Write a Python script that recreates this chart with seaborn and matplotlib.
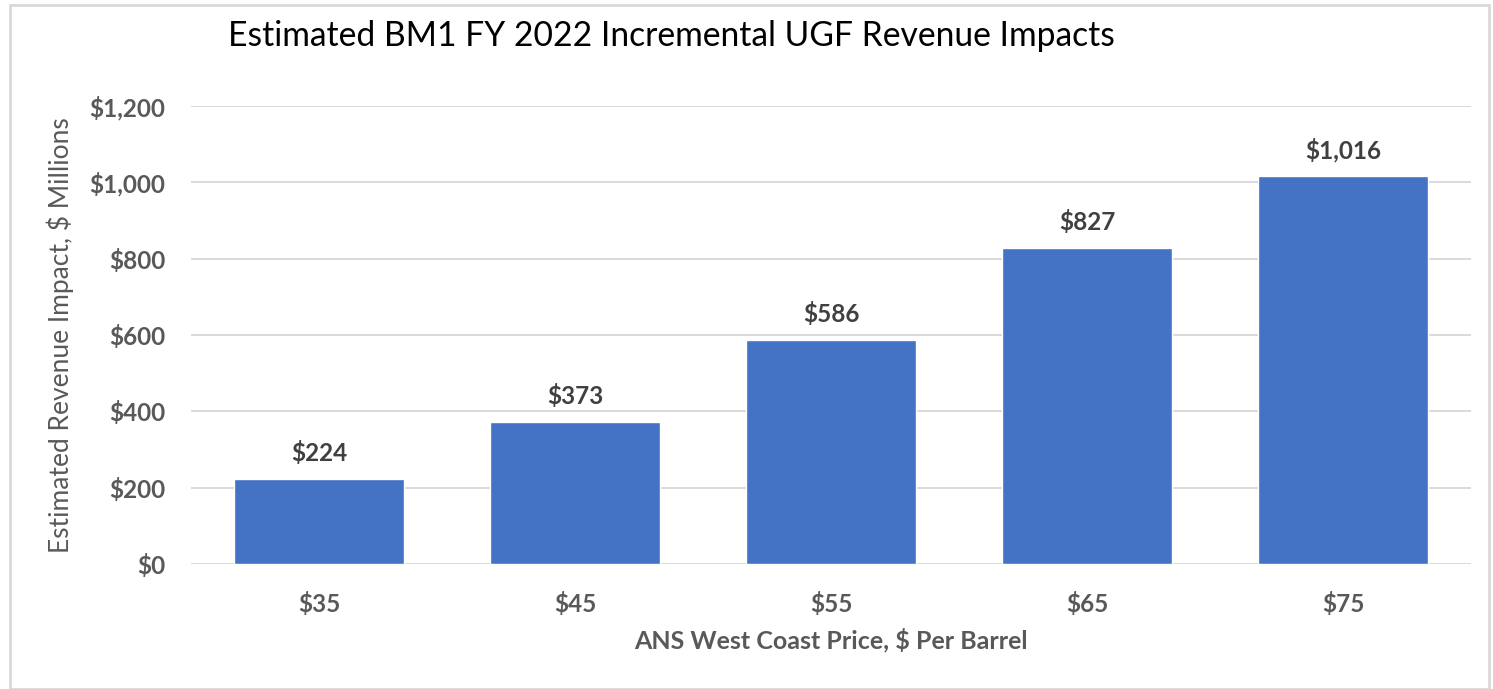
import matplotlib
matplotlib.use("Agg")
import matplotlib.pyplot as plt
import seaborn as sns
import pandas as pd
from matplotlib.patches import Rectangle

# Data
prices = ["$35", "$45", "$55", "$65", "$75"]
impacts = [224, 373, 586, 827, 1016]
y_ticks = [0, 200, 400, 600, 800, 1000, 1200]

title = "Estimated BM1 FY 2022 Incremental UGF Revenue Impacts"
x_label = "ANS West Coast Price, $ Per Barrel"
y_label = "Estimated Revenue Impact, $ Millions"

sns.set_theme(style="white")
plt.rcParams["font.family"] = ["Lato", "DejaVu Sans"]

W, H = 1493, 689
fig = plt.figure(figsize=(W / 100, H / 100), dpi=100)
ax = fig.add_axes([191 / W, 1 - 564 / H, (1471 - 191) / W, (564 - 106) / H])

df = pd.DataFrame({"price": prices, "impact": impacts})
sns.barplot(data=df, x="price", y="impact", color="#4472C4", width=0.664,
            saturation=1, ax=ax, zorder=3)

ax.set_ylim(0, 1200)
ax.set_yticks(y_ticks)
ax.set_yticklabels([f"${v:,}" for v in y_ticks])
ax.yaxis.grid(True, color="#D9D9D9", linewidth=1.4, zorder=0)
ax.xaxis.grid(False)
ax.set_axisbelow(True)
for s in ax.spines.values():
    s.set_visible(False)
ax.tick_params(axis="both", length=0, colors="#595959", labelsize=17.5)
ax.tick_params(axis="y", pad=18.5)
ax.tick_params(axis="x", pad=20)
for lbl in ax.get_xticklabels() + ax.get_yticklabels():
    lbl.set_fontweight("bold")

ax.set_xlabel(x_label, fontsize=18, fontweight="bold", color="#595959", labelpad=9)
ax.set_ylabel(y_label, fontsize=19, color="#595959", labelpad=11)

for i, v in enumerate(impacts):
    ax.annotate(f"${v:,}", xy=(i, v), xytext=(0, 10), textcoords="offset points",
                ha="center", va="bottom", fontsize=17.5, fontweight="bold",
                color="#404040")

fig.text(228 / W, 1 - 36 / H, title, fontsize=24.2, color="#000000",
         ha="left", va="center")

fig.patches.append(Rectangle((10 / W, 0), (1489 - 10) / W, 1 - 5 / H,
                             transform=fig.transFigure, fill=False,
                             edgecolor="#D9D9D9", linewidth=2))

fig.savefig("out.png", dpi=100, facecolor="white")
